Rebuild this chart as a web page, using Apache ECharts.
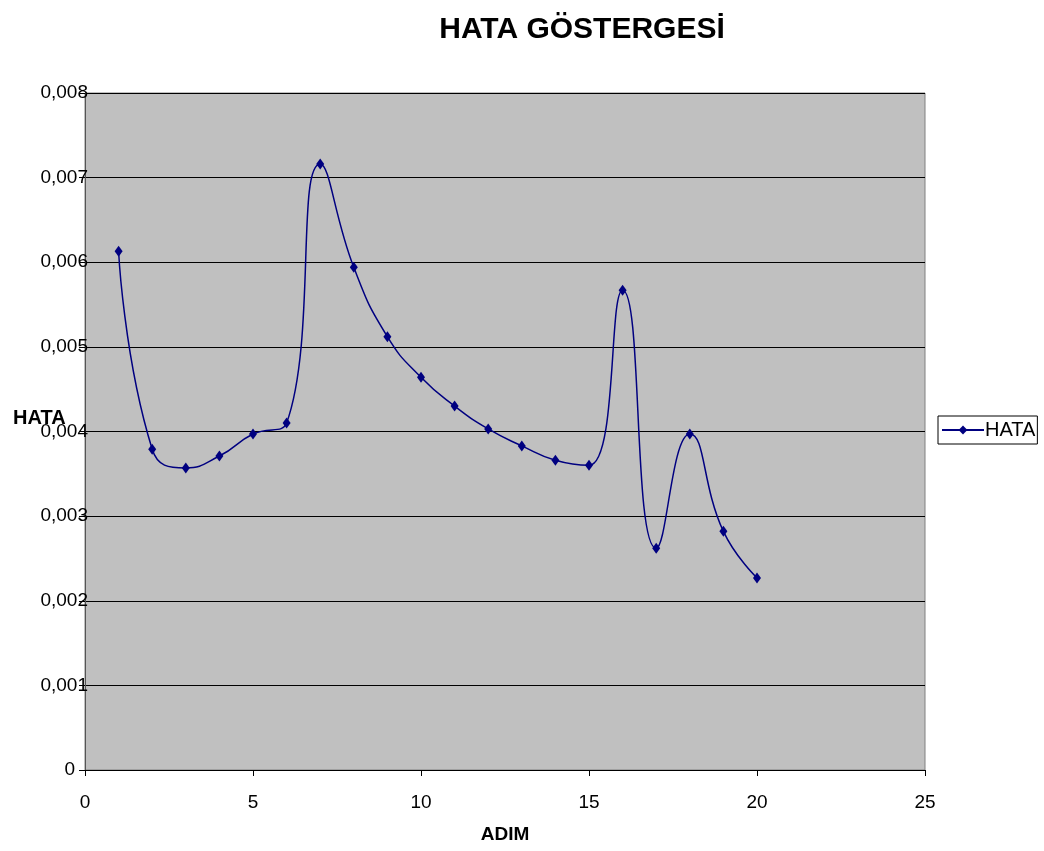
<!DOCTYPE html>
<html>
<head>
<meta charset="utf-8">
<script src="https://cdn.jsdelivr.net/npm/echarts@6/dist/echarts.min.js"></script>
<style>
  html, body { margin: 0; padding: 0; background: #fff; }
  #chart { width: 1044px; height: 851px; }
</style>
</head>
<body>
<div id="chart"></div>
<script>
// Step numbers and the error value measured at each step
const steps = [1, 2, 3, 4, 5, 6, 7, 8, 9, 10, 11, 12, 13, 14, 15, 16, 17, 18, 19, 20];
const errors = [0.00613, 0.00379, 0.00357, 0.00371, 0.00397, 0.00410, 0.00716, 0.00594,
                0.00512, 0.00464, 0.00430, 0.00403, 0.00383, 0.00366, 0.00360, 0.00567,
                0.00262, 0.00397, 0.00282, 0.00227];

const seriesName = 'HATA';
const titleText = 'HATA GÖSTERGESİ';
const xName = 'ADIM';
const yName = 'HATA';

const points = steps.map((s, i) => [s, errors[i]]);
const font = 'Liberation Sans, Arial, sans-serif';

const chart = echarts.init(document.getElementById('chart'));
chart.setOption({
  animation: false,
  title: {
    text: titleText,
    left: 577,
    textAlign: 'center',
    top: 10,
    textStyle: { fontFamily: font, fontSize: 30, fontWeight: 'bold', color: '#000' }
  },
  legend: {
    data: [seriesName],
    left: 938,
    top: 416,
    orient: 'vertical',
    borderColor: '#000',
    borderWidth: 1,
    padding: [4, 2, 4, 3],
    itemWidth: 42,
    itemHeight: 11,
    itemGap: 4,
    textStyle: { fontFamily: font, fontSize: 20, color: '#000', padding: [0, 0, 0, -4] }
  },
  grid: {
    left: 85, right: 119, top: 93, bottom: 81,
    show: true,
    backgroundColor: '#C0C0C0',
    borderColor: '#808080',
    borderWidth: 1
  },
  graphic: [{
    type: 'text',
    left: 13,
    top: 408,
    style: { text: yName, fontFamily: font, fontSize: 20, fontWeight: 'bold', fill: '#000' }
  }],
  xAxis: {
    type: 'value',
    min: 0, max: 25, interval: 5,
    name: xName,
    nameLocation: 'middle',
    nameGap: 55,
    nameTextStyle: { fontFamily: font, fontSize: 19, fontWeight: 'bold', color: '#000' },
    axisLine: { show: true, lineStyle: { color: '#000', width: 1 } },
    axisTick: { show: true, length: 6, lineStyle: { color: '#000' } },
    axisLabel: { fontFamily: font, fontSize: 19, color: '#000', margin: 23 },
    splitLine: { show: false }
  },
  yAxis: {
    type: 'value',
    min: 0, max: 0.008, interval: 0.001,
    axisLine: { show: true, lineStyle: { color: '#555', width: 1 } },
    axisTick: { show: true, length: 6, lineStyle: { color: '#000' } },
    axisLabel: {
      fontFamily: font, fontSize: 19, color: '#000', margin: -3,
      formatter: v => v === 0 ? '{z|0}' : v.toFixed(3).replace('.', ','),
      rich: { z: { fontFamily: font, fontSize: 19, color: '#000', padding: [0, 13, 0, 0] } }
    },
    splitLine: { show: true, lineStyle: { color: '#000', width: 1 } }
  },
  series: [{
    name: seriesName,
    type: 'line',
    data: points,
    smooth: 0.5,
    symbol: 'diamond',
    symbolSize: [8, 11],
    lineStyle: { color: '#000080', width: 1.5 },
    itemStyle: { color: '#000080' }
  }]
});
</script>
</body>
</html>
